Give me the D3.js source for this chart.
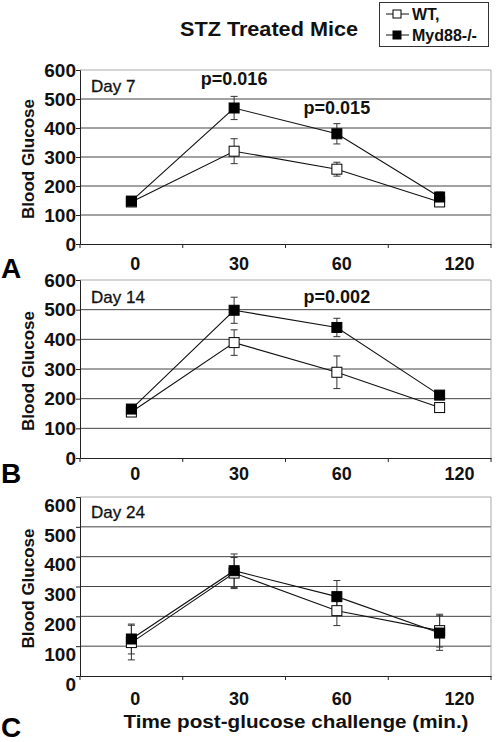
<!DOCTYPE html>
<html><head><meta charset="utf-8">
<script src="https://cdn.jsdelivr.net/npm/d3@7"></script>
<style>body{margin:0;background:#fff}svg{display:block;font-family:"Liberation Sans",Arial,sans-serif}</style>
</head><body><svg id="c" width="498" height="742"></svg>
<script>
// ---- data ----
const categories = ["0", "30", "60", "120"];
const yTicks = [0, 100, 200, 300, 400, 500, 600];
const seriesNames = ["WT,", "Myd88-/-"];
const panelLetters = ["A", "B", "C"];
const dayLabels = ["Day 7", "Day 14", "Day 24"];

const wtDay7 = [145, 320, 258, 145];
const wtDay7Err = [8, 43, 24, 10];
const koDay7 = [148, 469, 380, 162];
const koDay7Err = [8, 40, 35, 17];

const wtDay14 = [155, 389, 289, 170];
const wtDay14Err = [12, 43, 55, 8];
const koDay14 = [165, 498, 440, 212];
const koDay14Err = [10, 44, 31, 8];

const wtDay24 = [112, 345, 219, 152];
const wtDay24Err = [58, 52, 50, 55];
const koDay24 = [124, 353, 266, 144];
const koDay24Err = [50, 56, 54, 58];

const pDay7 = [{cat: "30", text: "p=0.016"}, {cat: "60", text: "p=0.015"}];
const pDay14 = [{cat: "60", text: "p=0.002"}];
const pDay24 = [];

// ---- layout ----
const svg = d3.select("#c");
const left = 80, right = 491;
const panels = [
  {top: 70, bottom: 244, wt: wtDay7, wtE: wtDay7Err, ko: koDay7, koE: koDay7Err, p: pDay7,
   pY: [85, 114], dayY: 92, xLabY: 270, letterY: 278, yLabOff: 0},
  {top: 280, bottom: 458, wt: wtDay14, wtE: wtDay14Err, ko: koDay14, koE: koDay14Err, p: pDay14,
   pY: [303], dayY: 303, xLabY: 480, letterY: 483, yLabOff: 0},
  {top: 497, bottom: 676, wt: wtDay24, wtE: wtDay24Err, ko: koDay24, koE: koDay24Err, p: pDay24,
   pY: [], dayY: 518, xLabY: 705, letterY: 737, yLabOff: 8}
];
const labelDx = [4, 5, 5, 20];

const x = d3.scaleBand().domain(categories).range([left, right]);
const cx = c => x(c) + x.bandwidth() / 2;

panels.forEach((P, pi) => {
  const y = d3.scaleLinear().domain([0, 600]).range([P.bottom, P.top]);
  const g = svg.append("g");

  g.selectAll("line.grid").data(yTicks.filter(t => t > 0 && t < 600)).join("line")
    .attr("x1", left).attr("x2", right).attr("y1", d => y(d)).attr("y2", d => y(d))
    .attr("stroke", "#444").attr("stroke-width", 1);
  g.append("line").attr("x1", left).attr("x2", right).attr("y1", y(600)).attr("y2", y(600))
    .attr("stroke", "#aaa");
  g.append("line").attr("x1", right).attr("x2", right).attr("y1", y(600)).attr("y2", y(0))
    .attr("stroke", "#aaa");

  const ya = g.append("g").attr("transform", `translate(${left},0)`)
    .call(d3.axisLeft(y).tickValues(yTicks).tickSize(4).tickFormat(d3.format("d")));
  ya.select(".domain").attr("stroke", "#222");
  ya.selectAll(".tick line").attr("stroke", "#222");
  ya.selectAll(".tick text").attr("font-size", 19).attr("font-weight", "bold")
    .attr("fill", "#111").attr("x", -4).attr("dy", "0.33em")
    .attr("transform", `translate(0,${P.yLabOff})`);

  const xa = g.append("g").attr("transform", `translate(0,${P.bottom})`)
    .call(d3.axisBottom(x).tickSize(0).tickFormat(""));
  xa.select(".domain").attr("stroke", "#222");
  xa.selectAll(".tick").remove();
  const bounds = categories.map(c => x(c)).concat([right]);
  g.selectAll("line.xt").data(bounds).join("line")
    .attr("x1", d => d).attr("x2", d => d).attr("y1", P.bottom).attr("y2", P.bottom + 4)
    .attr("stroke", "#222");
  g.selectAll("text.xl").data(categories).join("text")
    .attr("x", (d, i) => cx(d) + labelDx[i]).attr("y", P.xLabY)
    .attr("text-anchor", "middle").attr("font-size", 18).attr("font-weight", "bold")
    .attr("fill", "#111").text(d => d);

  g.append("text").attr("transform", `translate(34,${(P.top + P.bottom) / 2 + 2}) rotate(-90)`)
    .attr("text-anchor", "middle").attr("font-size", 17).attr("font-weight", "bold")
    .attr("fill", "#111").text("Blood Glucose");

  g.append("text").attr("x", 91).attr("y", P.dayY).attr("font-size", 17)
    .attr("fill", "#111").attr("stroke", "#111").attr("stroke-width", 0.3).text(dayLabels[pi]);

  P.p.forEach((pv, k) => {
    g.append("text").attr("x", cx(pv.cat)).attr("y", P.pY[k]).attr("text-anchor", "middle")
      .attr("font-size", 18).attr("font-weight", "bold").attr("fill", "#111").text(pv.text);
  });

  const line = d3.line().x((d, i) => cx(categories[i])).y(d => y(d));
  const series = [
    {vals: P.wt, err: P.wtE, fill: "#fff"},
    {vals: P.ko, err: P.koE, fill: "#000"}
  ];
  series.forEach(s => {
    g.append("path").attr("d", line(s.vals)).attr("fill", "none")
      .attr("stroke", "#111").attr("stroke-width", 1.1);
  });
  series.forEach(s => {
    s.vals.forEach((v, i) => {
      const xc = cx(categories[i]);
      const e = s.err[i];
      g.append("line").attr("x1", xc).attr("x2", xc).attr("y1", y(v + e)).attr("y2", y(v - e))
        .attr("stroke", "#333");
      [v + e, v - e].forEach(b => {
        g.append("line").attr("x1", xc - 3.5).attr("x2", xc + 3.5).attr("y1", y(b)).attr("y2", y(b))
          .attr("stroke", "#333");
      });
    });
  });
  series.forEach(s => {
    g.selectAll(null).data(s.vals).join("rect")
      .attr("x", (d, i) => cx(categories[i]) - 5).attr("y", d => y(d) - 5)
      .attr("width", 10).attr("height", 10)
      .attr("fill", s.fill).attr("stroke", "#000").attr("stroke-width", 1);
  });

  svg.append("text").attr("x", 1).attr("y", P.letterY).attr("font-size", 28)
    .attr("font-weight", "bold").attr("fill", "#000").text(panelLetters[pi]);
});

svg.append("text").attr("x", 269).attr("y", 36).attr("text-anchor", "middle")
  .attr("font-size", 21).attr("font-weight", "bold").attr("fill", "#111")
  .attr("textLength", 178).attr("lengthAdjust", "spacingAndGlyphs").text("STZ Treated Mice");

svg.append("text").attr("x", 296).attr("y", 728).attr("text-anchor", "middle")
  .attr("font-size", 18).attr("font-weight", "bold").attr("fill", "#111")
  .attr("textLength", 345).attr("lengthAdjust", "spacingAndGlyphs")
  .text("Time post-glucose challenge (min.)");

const lg = svg.append("g");
lg.append("rect").attr("x", 379.5).attr("y", 2.5).attr("width", 109).attr("height", 44)
  .attr("fill", "#fff").attr("stroke", "#333");
const legFills = ["#fff", "#000"];
const legY = d3.scalePoint().domain(seriesNames).range([14, 35]);
seriesNames.forEach((n, i) => {
  const yy = legY(n);
  lg.append("line").attr("x1", 386).attr("x2", 409).attr("y1", yy).attr("y2", yy).attr("stroke", "#111");
  lg.append("rect").attr("x", 393).attr("y", yy - 4).attr("width", 8).attr("height", 8)
    .attr("fill", legFills[i]).attr("stroke", "#000");
  lg.append("text").attr("x", 412).attr("y", yy + 6).attr("font-size", 16).attr("font-weight", "bold")
    .attr("fill", "#111").text(n);
});
</script></body></html>
